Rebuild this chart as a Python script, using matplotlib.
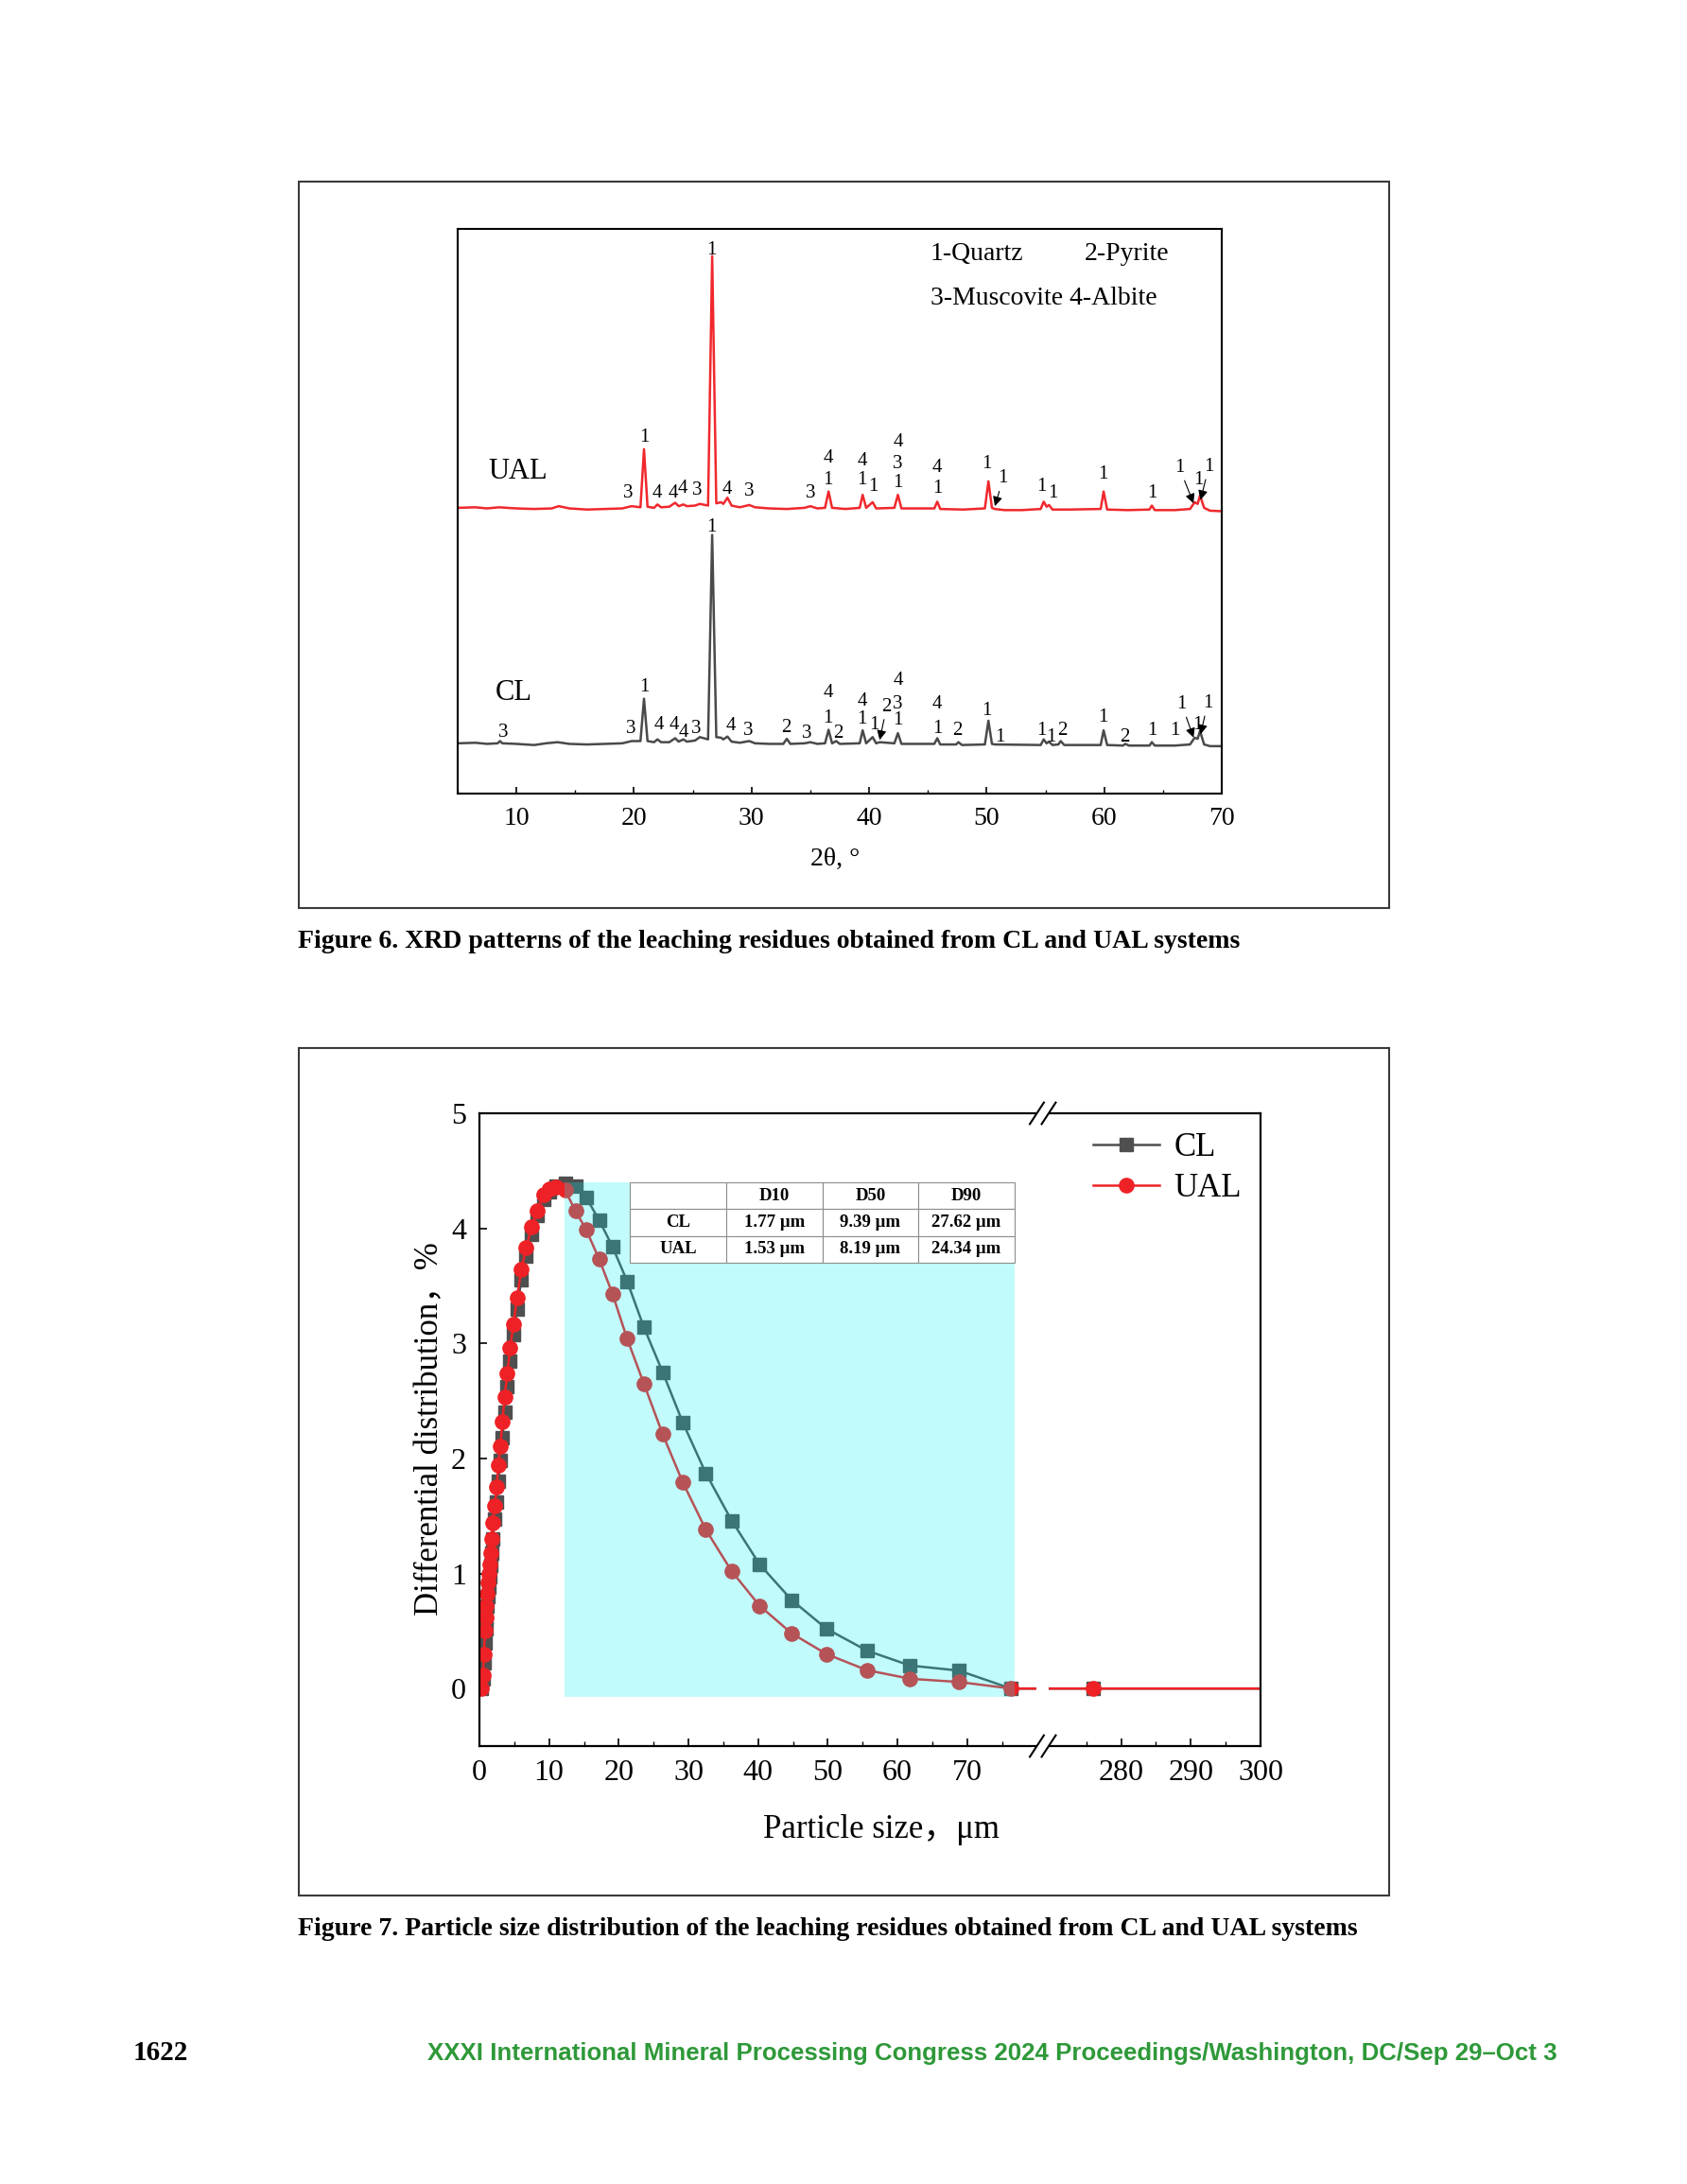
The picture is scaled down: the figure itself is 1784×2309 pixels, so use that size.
import numpy as np
import matplotlib
matplotlib.use("Agg")
import matplotlib.pyplot as plt
from matplotlib.patches import Rectangle
from matplotlib.lines import Line2D
from matplotlib.ticker import MultipleLocator, FixedLocator

plt.rcParams['font.family'] = ['Liberation Serif', 'Noto Sans CJK SC', 'DejaVu Sans']

# ----------------------
# Figure 6 data: XRD traces (2theta, a.u.)
# ----------------------
ual_tt = [5.0, 6.5, 7.5, 8.5, 10.0, 11.5, 13.0, 13.6, 14.5, 16.0, 17.5, 19.0, 19.8, 20.55, 20.85, 21.15,
          21.7, 22.0, 22.3, 23.0, 23.5, 23.8, 24.2, 24.5, 25.2, 25.6, 26.3, 26.65, 27.0, 27.4, 27.6, 27.95,
          28.3, 29.0, 29.8, 30.3, 31.5, 33.0, 34.5, 35.0, 35.6, 36.25, 36.55, 36.85, 38.0, 39.2, 39.45, 39.75,
          40.3, 40.6, 42.15, 42.45, 42.75, 44.0, 45.55, 45.8, 46.05, 48.0, 49.85, 50.15, 50.45, 50.7, 51.5,
          53.0, 54.6, 54.85, 55.1, 55.3, 55.6, 57.0, 59.7, 59.95, 60.25, 62.0, 63.85, 64.05, 64.3, 66.0,
          67.3, 67.7, 67.95, 68.15, 68.5, 69.0, 70.0]
ual_int = [50.6, 50.7, 50.5, 50.7, 50.5, 50.4, 50.5, 50.9, 50.5, 50.3, 50.4, 50.5, 50.9, 50.7, 61.0, 50.8,
           50.6, 51.2, 50.7, 50.8, 51.5, 50.9, 51.2, 50.9, 51.0, 51.3, 51.0, 95.2, 51.4, 51.6, 51.3, 52.4,
           51.0, 50.7, 51.1, 50.7, 50.5, 50.4, 50.6, 50.9, 50.5, 50.6, 53.5, 50.6, 50.4, 50.6, 52.9, 50.6,
           51.6, 50.5, 50.6, 52.9, 50.5, 50.5, 50.5, 51.7, 50.4, 50.3, 50.5, 55.3, 50.6, 50.4, 50.2,
           50.2, 50.4, 51.7, 50.8, 51.1, 50.3, 50.3, 50.4, 53.5, 50.3, 50.2, 50.3, 51.0, 50.2, 50.2,
           50.4, 51.6, 51.3, 52.8, 50.6, 50.1, 50.0]

cl_tt = [5.0, 6.5, 7.5, 8.4, 8.6, 8.8, 10.0, 11.5, 12.5, 13.5, 14.5, 16.0, 17.5, 19.0, 19.8, 20.55, 20.85,
         21.15, 21.7, 22.0, 22.3, 23.0, 23.5, 23.8, 24.2, 24.5, 25.2, 25.6, 26.3, 26.65, 27.0, 27.4, 27.6,
         27.95, 28.3, 29.0, 29.8, 30.3, 31.5, 32.7, 33.0, 33.3, 34.5, 35.0, 35.6, 36.25, 36.55, 36.85, 37.2,
         37.5, 39.2, 39.45, 39.75, 40.3, 40.6, 40.9, 42.15, 42.45, 42.75, 45.55, 45.8, 46.05, 47.4, 47.6,
         47.9, 49.85, 50.15, 50.45, 50.7, 54.6, 54.85, 55.1, 55.3, 55.6, 56.1, 56.3, 56.6, 59.7, 59.95,
         60.25, 61.6, 61.8, 62.1, 63.85, 64.05, 64.3, 66.0, 67.3, 67.7, 67.95, 68.15, 68.5, 69.0, 70.0]
cl_int = [8.9, 9.0, 8.8, 8.9, 9.3, 8.9, 8.8, 8.6, 8.9, 9.1, 8.8, 8.7, 8.8, 8.9, 9.3, 9.3, 16.8,
          9.3, 9.1, 9.6, 9.1, 9.1, 9.8, 9.2, 9.6, 9.2, 9.4, 10.0, 9.6, 45.8, 10.0, 9.9, 9.6,
          10.1, 9.2, 9.0, 9.3, 8.9, 8.8, 8.8, 9.7, 8.8, 8.9, 9.1, 8.8, 8.9, 11.3, 8.9, 9.3,
          8.8, 8.9, 11.2, 8.9, 10.0, 8.9, 9.1, 8.9, 10.7, 8.8, 8.8, 9.8, 8.7, 8.7, 9.1,
          8.6, 8.7, 12.9, 8.8, 8.7, 8.6, 9.6, 8.9, 9.2, 8.6, 8.7, 9.3, 8.6, 8.6, 11.2,
          8.6, 8.5, 8.8, 8.5, 8.5, 9.1, 8.5, 8.5, 8.7, 9.9, 9.7, 11.1, 8.7, 8.4, 8.4]

# phase labels (1-Quartz, 2-Pyrite, 3-Muscovite, 4-Albite)
ual_lbl_x = [26.6, 20.85, 19.5, 22.0, 23.3, 24.1, 25.4, 27.95, 29.8, 35.0, 36.5, 36.5, 39.4, 39.4, 40.35,
             42.45, 42.45, 42.45, 45.8, 45.8, 50.0, 54.7, 55.6, 59.9, 64.1, 68.0]
ual_lbl_y = [96.2, 63.1, 53.1, 53.1, 53.1, 54.1, 53.7, 53.9, 53.5, 53.1, 59.4, 55.6, 58.9, 55.6, 54.4,
             62.2, 58.3, 55.0, 57.7, 54.1, 58.3, 54.4, 53.1, 56.6, 53.1, 55.6]
ual_lbl_s = ['1', '1', '3', '4', '4', '4', '3', '4', '3', '3', '4', '1', '4', '1', '1',
             '4', '3', '1', '4', '1', '1', '1', '1', '1', '1', '1']
ual_arr_txt = [(51.4, 55.8), (66.4, 57.7), (68.9, 57.9)]
ual_arr_tip = [(50.7, 50.9), (67.6, 51.4), (68.2, 52.0)]

cl_lbl_x = [26.6, 20.85, 8.9, 19.7, 22.1, 23.4, 24.2, 25.3, 28.2, 29.7, 32.9, 34.7, 36.5, 36.5, 37.4,
            39.4, 39.4, 40.4, 42.45, 42.45, 42.45, 45.8, 45.8, 47.5, 50.0, 51.1, 54.7, 55.5, 56.4,
            59.9, 61.7, 64.1, 66.0, 67.9]
cl_lbl_y = [47.1, 18.9, 10.8, 11.5, 12.1, 12.2, 10.8, 11.4, 11.9, 11.2, 11.7, 10.7, 17.9, 13.3, 10.6,
            16.4, 13.1, 12.1, 20.0, 15.8, 12.9, 15.8, 11.4, 11.2, 14.6, 10.0, 11.2, 10.0, 11.1,
            13.5, 10.0, 11.2, 11.1, 12.1]
cl_lbl_s = ['1', '1', '3', '3', '4', '4', '4', '3', '4', '3', '2', '3', '4', '1', '2',
            '4', '1', '1', '4', '3', '1', '4', '1', '2', '1', '1', '1', '1', '2',
            '1', '2', '1', '1', '1']
cl_arr_txt = [(41.5, 15.4), (66.6, 15.8), (68.8, 16.0)]
cl_arr_tip = [(40.9, 9.5), (67.6, 9.9), (68.2, 10.5)]
cl_arr_s = ['2', '1', '1']

# ----------------------
# Figure 7 data: particle size distribution
# ----------------------
sizes = [0.3, 0.5, 0.65, 0.8, 0.9, 1.0, 1.1, 1.2, 1.3, 1.45, 1.6, 1.75, 1.9, 2.2, 2.5, 2.7, 3.0, 3.3,
         3.6, 4.0, 4.4, 4.9, 5.4, 6.0, 6.7, 7.5, 8.3, 9.2, 10.1, 11.0, 12.3, 13.8, 15.3, 17.2, 19.1,
         21.2, 23.6, 26.3, 29.2, 32.5, 36.2, 40.2, 44.8, 49.8, 55.6, 61.8, 68.8, 76.3, 276.0, 320.0]
ual_psd = [0, 0.12, 0.3, 0.5, 0.62, 0.72, 0.82, 0.92, 1.0, 1.08, 1.18, 1.3, 1.44, 1.59, 1.75, 1.94,
           2.11, 2.32, 2.53, 2.74, 2.96, 3.17, 3.40, 3.64, 3.83, 4.01, 4.15, 4.29, 4.34, 4.36, 4.33,
           4.15, 3.99, 3.73, 3.43, 3.04, 2.65, 2.21, 1.79, 1.38, 1.02, 0.72, 0.48, 0.30, 0.16, 0.085,
           0.057, 0.0, 0.0, 0.0]
cl_psd = [0, 0.08, 0.22, 0.4, 0.52, 0.62, 0.72, 0.8, 0.88, 0.97, 1.07, 1.18, 1.3, 1.47, 1.62, 1.8,
          1.98, 2.18, 2.4, 2.62, 2.85, 3.08, 3.3, 3.55, 3.76, 3.95, 4.11, 4.25, 4.32, 4.37, 4.39,
          4.37, 4.27, 4.07, 3.84, 3.54, 3.14, 2.75, 2.31, 1.87, 1.46, 1.08, 0.77, 0.52, 0.33, 0.20,
          0.156, 0.0, 0.0, 0.0]

tbl_cols = ['', 'D10', 'D50', 'D90']
tbl_rows = ['CL', 'UAL']
tbl_vals = [['1.77 μm', '9.39 μm', '27.62 μm'],
            ['1.53 μm', '8.19 μm', '24.34 μm']]

W, H = 1784, 2309
fig = plt.figure(figsize=(W / 100, H / 100), dpi=100)


def fx(px):
    return px / W


def fy(py):
    return 1 - py / H


def box(l, t, r, b):
    fig.patches.append(Rectangle((fx(l), fy(b)), fx(r - l), (b - t) / H, transform=fig.transFigure,
                                 fill=False, edgecolor='#3a3a3a', linewidth=1.5))


# ---------- Figure 6 ----------
box(316, 192, 1469, 960)
ax1 = fig.add_axes([fx(484), fy(839), fx(1292 - 484), (839 - 242) / H])
ax1.plot(ual_tt, ual_int, color='#F0282D', lw=1.8)
ax1.plot(cl_tt, cl_int, color='#4a4a4a', lw=1.8)
ax1.set_xlim(5, 70)
ax1.set_ylim(0, 100)
ax1.set_yticks([])
ax1.xaxis.set_major_locator(MultipleLocator(10))
ax1.xaxis.set_minor_locator(MultipleLocator(5))
ax1.tick_params(axis='x', which='major', direction='in', length=5, width=1.2, labelsize=20, pad=10)
ax1.tick_params(axis='x', which='minor', direction='in', length=3, width=1.0)
for s in ax1.spines.values():
    s.set_linewidth(1.5)
ax1.set_xlabel('2θ, °', fontsize=20, va='center')
ax1.xaxis.set_label_coords(0.494, -0.116)

LBL = 15
for x, y, s in zip(ual_lbl_x, ual_lbl_y, ual_lbl_s):
    ax1.text(x, y, s, fontsize=LBL, ha='center', va='center')
for x, y, s in zip(cl_lbl_x, cl_lbl_y, cl_lbl_s):
    ax1.text(x, y, s, fontsize=LBL, ha='center', va='center')
for (tx, ty), tip in zip(ual_arr_txt, ual_arr_tip):
    ax1.annotate('1', xy=tip, xytext=(tx, ty), fontsize=LBL, ha='center', va='center',
                 arrowprops=dict(arrowstyle='-|>', color='k', lw=0.8, mutation_scale=15,
                                 shrinkA=1, shrinkB=0))
for (tx, ty), tip, s in zip(cl_arr_txt, cl_arr_tip, cl_arr_s):
    ax1.annotate(s, xy=tip, xytext=(tx, ty), fontsize=LBL, ha='center', va='center',
                 arrowprops=dict(arrowstyle='-|>', color='k', lw=0.8, mutation_scale=15,
                                 shrinkA=1, shrinkB=0))

ax1.text(7.6, 57.0, 'UAL', fontsize=22, va='center')
ax1.text(8.2, 17.9, 'CL', fontsize=22, va='center')
ax1.text(45.2, 95.5, '1-Quartz', fontsize=20, va='center')
ax1.text(58.3, 95.5, '2-Pyrite', fontsize=20, va='center')
ax1.text(45.2, 87.7, '3-Muscovite 4-Albite', fontsize=20, va='center')

fig.text(fx(315), fy(995), 'Figure 6. XRD patterns of the leaching residues obtained from CL and UAL systems',
         fontsize=20, fontweight='bold', va='center')

# ---------- Figure 7 ----------
box(316, 1108, 1469, 2004)
ax2 = fig.add_axes([fx(507), fy(1846), fx(1333 - 507), (1846 - 1177) / H])


def fwd(x):
    x = np.asarray(x, dtype=float)
    return np.where(x <= 80.5, x, np.where(x >= 268.5, x - 187.9, 80.5 + (x - 80.5) * 0.1 / 188))


def inv(p):
    p = np.asarray(p, dtype=float)
    return np.where(p <= 80.5, p, np.where(p >= 80.6, p + 187.9, 80.5 + (p - 80.5) * 1880))


ax2.set_xscale('function', functions=(fwd, inv))
ax2.plot(sizes, cl_psd, color='#4f4f4f', lw=1.8, marker='s', ms=9.5, mec='#4f4f4f', mfc='#4f4f4f')
ax2.plot(sizes, ual_psd, color='#EE2226', lw=1.8, marker='o', ms=11, mec='#EE2226', mfc='#EE2226')
ax2.set_xlim(0, 300)
ax2.set_ylim(-0.5, 5)
ax2.xaxis.set_major_locator(FixedLocator([0, 10, 20, 30, 40, 50, 60, 70, 280, 290, 300]))
ax2.xaxis.set_minor_locator(FixedLocator([5, 15, 25, 35, 45, 55, 65, 75, 275, 285, 295]))
ax2.yaxis.set_major_locator(MultipleLocator(1))
ax2.xaxis.set_major_formatter(plt.FuncFormatter(lambda v, p: '%d' % round(v)))
ax2.tick_params(axis='both', which='major', direction='in', length=6, width=1.2, labelsize=23)
ax2.tick_params(axis='x', which='major', pad=10)
ax2.tick_params(axis='y', which='major', pad=10)
ax2.tick_params(axis='x', which='minor', direction='in', length=3.5, width=1.0)
for s in ax2.spines.values():
    s.set_linewidth(1.6)

# shaded D-range with overlay tint
ax2.add_patch(Rectangle((12.2, -0.07), 76.8 - 12.2, 4.47, facecolor='#00F0F5', alpha=0.24,
                        edgecolor='none', zorder=4))

# axis break
brk0, brk1 = 80.0 / 112.1, 81.7 / 112.1
ax2.add_patch(Rectangle((brk0, -0.02), brk1 - brk0, 1.04, transform=ax2.transAxes, facecolor='white',
                        edgecolor='none', zorder=5, clip_on=False))
for yb in (0.0, 1.0):
    for xc in (brk0, brk1):
        ax2.plot([xc - 0.009, xc + 0.009], [yb - 0.017, yb + 0.017], transform=ax2.transAxes,
                 color='k', lw=1.5, zorder=6, clip_on=False)

tab = ax2.table(cellText=[tbl_cols] + [[r] + v for r, v in zip(tbl_rows, tbl_vals)],
                cellLoc='center', bbox=[21.6 / 112.1, (3.70 + 0.5) / 5.5, (76.8 - 21.6) / 112.1,
                                        (4.40 - 3.70) / 5.5], zorder=8)
tab.auto_set_font_size(False)
for cell in tab.get_celld().values():
    cell.set_edgecolor('#8c8c8c')
    cell.set_linewidth(0.8)
    cell.set_facecolor('white')
    cell.get_text().set_fontsize(13.5)
    cell.get_text().set_fontweight('bold')

handles = [Line2D([], [], color='#4f4f4f', lw=1.8, marker='s', ms=9.5),
           Line2D([], [], color='#EE2226', lw=1.8, marker='o', ms=11)]
ax2.legend(handles, ['CL', 'UAL'], loc='upper left', bbox_to_anchor=(0.786, 0.97), frameon=False,
           fontsize=25, handlelength=2.0, handletextpad=0.45, labelspacing=0.3, borderpad=0,
           borderaxespad=0)

ax2.set_xlabel('Particle size，μm', fontsize=25, va='center')
ax2.xaxis.set_label_coords(0.5145, -0.133)
ax2.set_ylabel('Differential distribution，%', fontsize=25, va='center')
ax2.yaxis.set_label_coords(-0.064, 0.502)

fig.text(fx(315), fy(2040),
         'Figure 7. Particle size distribution of the leaching residues obtained from CL and UAL systems',
         fontsize=20, fontweight='bold', va='center')

# footer
fig.text(fx(141), fy(2171), '1622', fontsize=21, fontweight='bold', va='center')
fig.text(fx(452), fy(2171),
         'XXXI International Mineral Processing Congress 2024 Proceedings/Washington, DC/Sep 29–Oct 3',
         fontsize=18.6, fontweight='bold', color='#2E9939', va='center', family='Liberation Sans')

fig.savefig('out.png', dpi=100, facecolor='white')
